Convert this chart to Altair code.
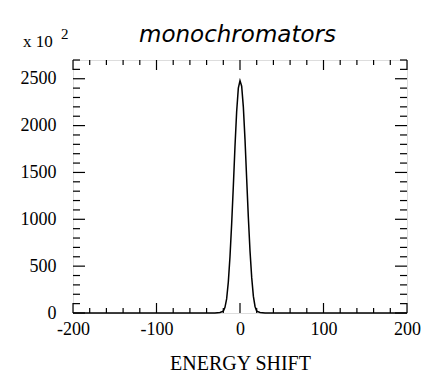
import altair as alt
import pandas as pd

# Curve (energy shift, counts)
shift = [-200, -30, -24, -20, -18, -16, -14, -12, -10, -8, -6, -4, -2, 0,
         2, 4, 6, 8, 10, 12, 14, 16, 18, 20, 24, 30, 200]
counts = [0, 0, 5, 20, 60, 150, 330, 600, 950, 1350, 1780, 2150, 2400, 2480,
          2420, 2200, 1850, 1430, 1020, 660, 380, 180, 70, 20, 5, 0, 0]

x_labels = [-200, -100, 0, 100, 200]
x_minor = [v for v in range(-200, 201, 20) if v % 100 != 0]
y_labels = [0, 500, 1000, 1500, 2000, 2500]
y_minor = [v for v in range(0, 2701, 100) if v % 500 != 0]

W, H = 334, 253
FONT = "Liberation Serif"
LABEL = "datum.value < 0 ? '-' + abs(datum.value) : '' + datum.value"

xs = alt.Scale(domain=[-200, 200], nice=False, zero=False)
ys = alt.Scale(domain=[0, 2700], nice=False, zero=False)

xaxis = alt.Axis(values=x_labels, ticks=False, domain=False, grid=False,
                 labelFont=FONT, labelFontSize=18, labelPadding=7,
                 labelColor="black", labelExpr=LABEL, title="ENERGY SHIFT",
                 titleFont=FONT, titleFontSize=20, titleFontWeight="normal",
                 titleColor="black", titlePadding=15, labelFlush=False)
yaxis = alt.Axis(values=y_labels, ticks=False, domain=False, grid=False,
                 labelFont=FONT, labelFontSize=18, labelPadding=17,
                 labelColor="black", labelExpr=LABEL, title=None, labelFlush=False)

df = pd.DataFrame({"x": shift, "y": counts})

line = alt.Chart(df).mark_line(color="black", strokeWidth=1.5).encode(
    x=alt.X("x:Q", scale=xs, axis=xaxis),
    y=alt.Y("y:Q", scale=ys, axis=yaxis),
)

def xticks(vals, length):
    d = pd.DataFrame({"x": vals})
    bottom = alt.Chart(d).mark_rule(color="black", strokeWidth=1.2).encode(
        x=alt.X("x:Q", scale=xs, axis=xaxis), y=alt.value(H), y2=alt.value(H - length))
    top = alt.Chart(d).mark_rule(color="black", strokeWidth=1.2).encode(
        x=alt.X("x:Q", scale=xs, axis=xaxis), y=alt.value(0), y2=alt.value(length))
    return [bottom, top]

def yticks(vals, length):
    d = pd.DataFrame({"y": vals})
    left = alt.Chart(d).mark_rule(color="black", strokeWidth=1.2).encode(
        y=alt.Y("y:Q", scale=ys, axis=yaxis), x=alt.value(0), x2=alt.value(length))
    right = alt.Chart(d).mark_rule(color="black", strokeWidth=1.2).encode(
        y=alt.Y("y:Q", scale=ys, axis=yaxis), x=alt.value(W), x2=alt.value(W - length))
    return [left, right]

ticks = xticks(x_labels, 10) + xticks(x_minor, 5) + yticks(y_labels, 12) + yticks(y_minor, 7)

def text(t, x, y, size, font=FONT, style="normal"):
    return alt.Chart(pd.DataFrame({"t": [t]})).mark_text(
        font=font, fontSize=size, fontStyle=style, align="left",
        baseline="alphabetic", color="black").encode(
        x=alt.value(x), y=alt.value(y), text="t:N")

mult = text("x 10", -50, -13, 17)
exp = text("2", -12, -21, 15)
title = text("monochromators", 66, -18, 23, font="DejaVu Sans", style="italic")

chart = alt.layer(line, *ticks, mult, exp, title).properties(
    width=W, height=H,
    autosize="none",
    padding={"left": 73, "top": 60, "right": 18, "bottom": 68},
).configure_view(stroke="black", strokeWidth=1.5).configure(background="white")

chart.save("out.html", embed_options={"renderer": "svg", "actions": False})
